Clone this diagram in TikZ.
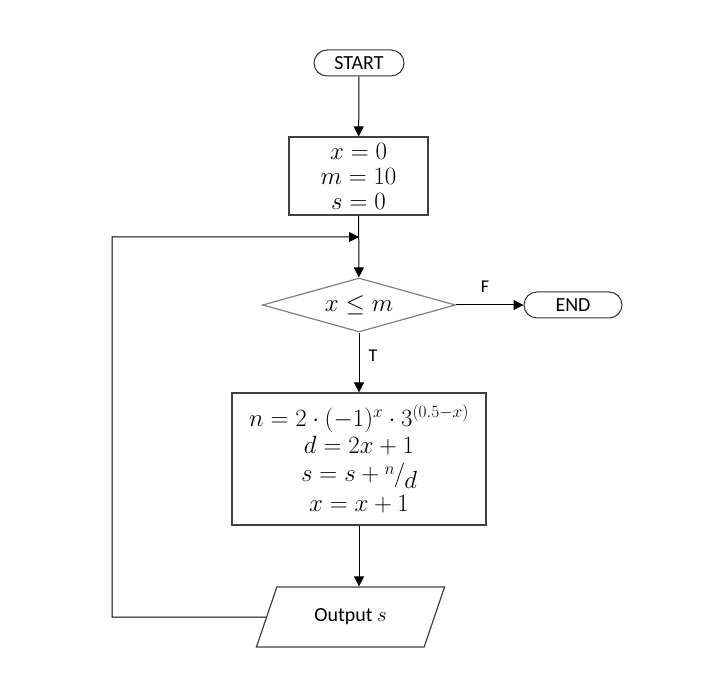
\documentclass[tikz,border=0pt]{standalone}
\usepackage{fontspec}
\newfontfamily\calfont{Carlito}
\usetikzlibrary{shapes.geometric,arrows.meta}
\begin{document}
\begin{tikzpicture}[x=1pt,y=-1pt,
  term/.style={draw=black!80, line width=1pt, rounded corners=13pt, minimum height=26pt, inner sep=0pt, font=\calfont\fontsize{20}{24}\selectfont},
  proc/.style={draw=black!75, line width=1.2pt, inner sep=0pt, font=\fontsize{23}{25}\selectfont, align=center},
  dec/.style={diamond, aspect=3.57, draw=black!50, line width=1.2pt, inner sep=0pt, minimum width=193pt, minimum height=54pt, font=\fontsize{23}{25}\selectfont},
  io/.style={trapezium, trapezium left angle=58.3, trapezium right angle=121.7, trapezium stretches=true, draw=black!75, line width=1.2pt, inner sep=0pt, font=\calfont\fontsize{20}{24}\selectfont},
  arr/.style={-{Triangle[length=10pt,width=10pt]}, line width=1pt, black},
  lbl/.style={inner sep=0pt, font=\calfont\fontsize{18}{20}\selectfont}
]
\useasboundingbox (0,0) rectangle (723,684);
\node[term, minimum width=90pt] (start) at (359,63) {START};
\node[proc, minimum width=139pt, minimum height=78pt] (init) at (358.5,176) {$x=0$\\$m=10$\\$s=0$};
\coordinate (j) at (359,237);
\node[dec] (cond) at (359,305) {$x\le m$};
\node[term, minimum width=98pt] (end) at (573,305) {END};
\node[proc, minimum width=254pt, minimum height=132pt, font=\fontsize{23}{27}\selectfont] (comp) at (359,459)
  {$n = 2\cdot(-1)^{x}\cdot 3^{(0.5-x)}$\\
   $d = 2x+1$\\[1pt]
   $s = s + \raisebox{0.3em}{$\scriptstyle n$}\kern-1pt\big/\kern-1pt\raisebox{-0.3em}{$d$}$\\[3pt]
   $x = x+1$};
\node[io, minimum width=189pt, minimum height=60pt] (out) at (350.5,617) {Output $s$};
\coordinate (lc) at (112,617);
\draw[arr] (start) -- (init);
\draw[arr] (init) -- (cond);
\draw[arr] (cond) -- node[lbl, pos=0.43, above=12pt] {F} (end);
\draw[arr] (cond) -- node[lbl, pos=0.38, right=9pt] {T} (comp);
\draw[arr] (comp) -- (comp |- out.north);
\draw[arr] (out.west) -- (lc) |- (j);
\end{tikzpicture}
\end{document}
